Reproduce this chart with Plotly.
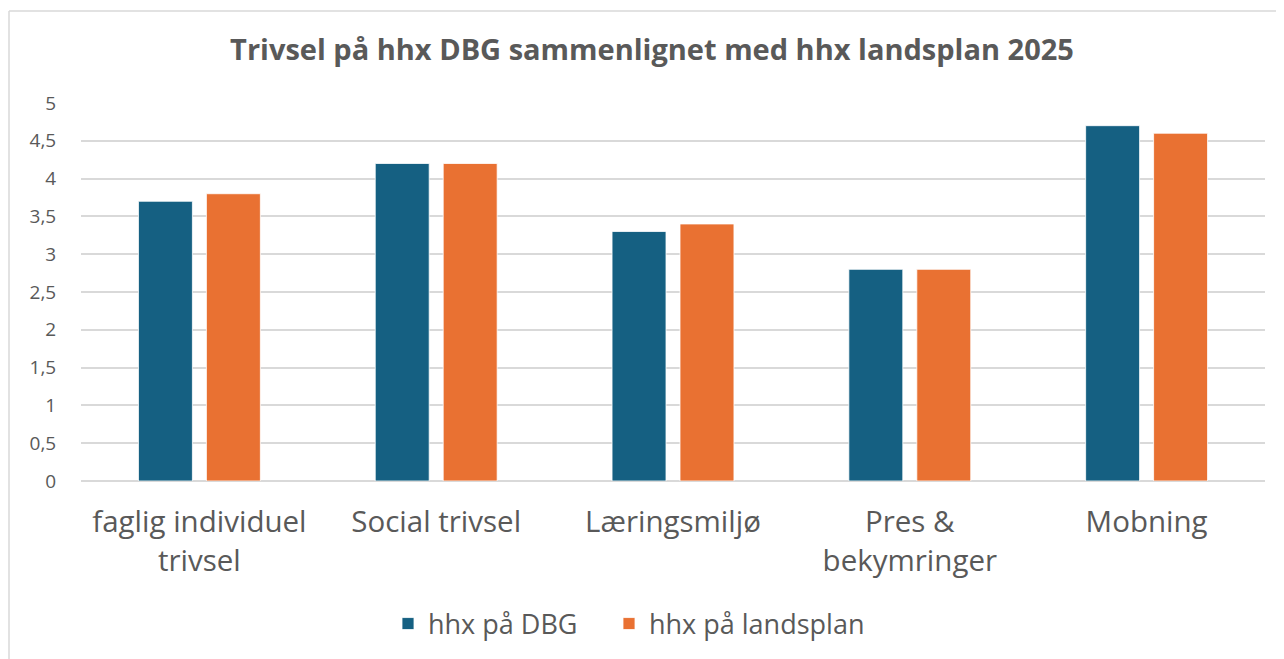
import plotly.graph_objects as go

categories = ["faglig individuel<br>trivsel", "Social trivsel", "Læringsmiljø", "Pres &<br>bekymringer", "Mobning"]
series_names = ["hhx på DBG", "hhx på landsplan"]
dbg_values = [3.7, 4.2, 3.3, 2.8, 4.7]
land_values = [3.8, 4.2, 3.4, 2.8, 4.6]
colors = ["#156082", "#E97132"]
legend_widths = [176, 230]
y_ticks = [0, 0.5, 1, 1.5, 2, 2.5, 3, 3.5, 4, 4.5, 5]

FONT = "Open Sans"
TXT = "#595959"

fig = go.Figure()
for name, vals, col, lw in zip(series_names, [dbg_values, land_values], colors, legend_widths):
    fig.add_trace(go.Bar(x=categories, y=vals, name=name, legendwidth=lw,
                         marker=dict(color=col, line=dict(color="white", width=0.8))))

OFF = 8  # page body margin
SW, SH = 1284, 659
W, H = SW - OFF, SH - OFF
# plot area in screen coords
PX0, PX1, PY0, PY1 = 81, 1265, 103, 481
L, R, T, B = PX0 - OFF, W - (PX1 - OFF), PY0 - OFF, H - (PY1 - OFF)
pw, ph = PX1 - PX0, PY1 - PY0

def px_x(p):
    return (p - PX0) / pw

def px_y(p):
    return (PY1 - p) / ph

fig.update_layout(
    width=W, height=H,
    margin=dict(l=L, r=R, t=T, b=B, autoexpand=False),
    paper_bgcolor="white", plot_bgcolor="white",
    separators=",.",
    barmode="group", bargap=0.426, bargroupgap=0.206,
    title=dict(text="<b>Trivsel på hhx DBG sammenlignet med hhx landsplan 2025</b>",
               x=(652 - OFF) / W, xanchor="center",
               y=1 - (50 - OFF) / H, yanchor="middle",
               font=dict(family=FONT, size=29, color=TXT)),
    font=dict(family=FONT, color=TXT),
    showlegend=True,
    legend=dict(orientation="h", x=px_x(636), xanchor="center",
                y=px_y(624), yanchor="middle",
                font=dict(family=FONT, size=27, color=TXT),
                itemwidth=30, entrywidthmode="pixels",
                traceorder="normal", bgcolor="rgba(0,0,0,0)"),
    xaxis=dict(showgrid=False, showline=False, zeroline=False,
               ticks="outside", ticklen=15, tickcolor="rgba(0,0,0,0)",
               tickfont=dict(family=FONT, size=29.5, color=TXT)),
    yaxis=dict(range=[0, 5], tickvals=y_ticks, showgrid=True, gridcolor="#D9D9D9",
               gridwidth=1.5, zeroline=True, zerolinecolor="#D9D9D9", zerolinewidth=1.5,
               showline=False, ticks="outside", ticklen=20, tickcolor="rgba(0,0,0,0)",
               tickfont=dict(family=FONT, size=19, color=TXT)),
    shapes=[
        dict(type="line", xref="paper", yref="paper",
             x0=px_x(9), x1=px_x(SW + 5), y0=px_y(11), y1=px_y(11),
             line=dict(color="#D9D9D9", width=1.5)),
        dict(type="line", xref="paper", yref="paper",
             x0=px_x(9), x1=px_x(9), y0=px_y(11), y1=px_y(SH + 5),
             line=dict(color="#D9D9D9", width=1.5)),
    ],
)

fig.write_html("out.html")
